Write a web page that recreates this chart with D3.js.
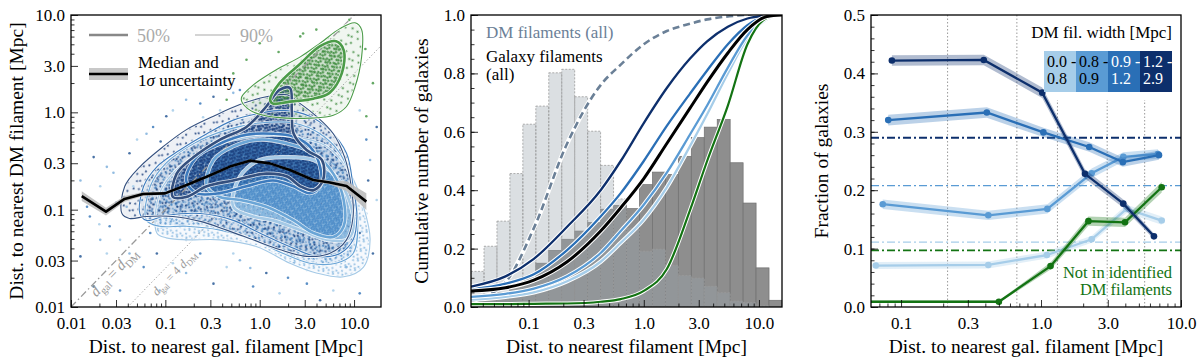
<!DOCTYPE html>
<html lang="en">
<head>
<meta charset="UTF-8">
<title>Galaxy vs DM filament distances</title>
<style>
  body { margin: 0; background: #fff; }
  svg { display: block; font-family: "Liberation Serif", "DejaVu Serif", serif; }
  .tick text { font-size: 17px; fill: #000; font-family: "Liberation Serif", serif; }
  .domain { display: none; }
  .tick line { stroke: #000; stroke-width: 0.8; }
</style>
</head>
<body>
<svg id="chart" width="1200" height="363"></svg>
<script src="https://cdn.jsdelivr.net/npm/d3@7"></script>
<script>
// ---------- left panel: dist. to gal. filament vs dist. to DM filament ----------
const medianX = [0.013, 0.0235, 0.037, 0.058, 0.099, 0.168, 0.274, 0.483, 0.787, 1.28, 2.09, 3.69, 5.55, 8.32, 13.5];
const medianY = [0.138, 0.0955, 0.129, 0.145, 0.147, 0.179, 0.218, 0.277, 0.319, 0.299, 0.256, 0.202, 0.19, 0.175, 0.121];
const medianErrDex = [0.05, 0.04, 0.03, 0.02, 0.015, 0.012, 0.012, 0.012, 0.012, 0.012, 0.012, 0.015, 0.02, 0.05, 0.085];

// contour outlines, [log10 d_gal, log10 d_DM]
const contourNavy90 = [[-1.46,-1.04],[-1.43,-0.76],[-1.27,-0.56],[-1.02,-0.35],[-0.78,-0.18],[-0.49,-0.04],[-0.21,0.08],[0.07,0.16],[0.29,0.18],[0.43,0.09],[0.60,-0.04],[0.78,-0.22],[0.90,-0.46],[0.97,-0.76],[0.99,-1.07],[0.92,-1.31],[0.74,-1.45],[0.50,-1.48],[0.21,-1.41],[-0.07,-1.31],[-0.35,-1.21],[-0.63,-1.12],[-0.92,-1.07],[-1.20,-1.07],[-1.38,-1.09]];
const contourNavy50 = [[-0.92,-0.87],[-0.88,-0.63],[-0.70,-0.46],[-0.42,-0.28],[-0.14,-0.15],[0.07,0.06],[0.21,0.23],[0.32,0.25],[0.34,0.02],[0.36,-0.22],[0.50,-0.39],[0.66,-0.49],[0.67,-0.70],[0.57,-0.80],[0.43,-0.76],[0.29,-0.66],[0.07,-0.63],[-0.28,-0.70],[-0.56,-0.76],[-0.78,-0.87]];
const contourMid90 = [[-1.27,-1.04],[-1.23,-0.76],[-1.09,-0.56],[-0.85,-0.39],[-0.56,-0.22],[-0.28,-0.08],[0.00,-0.01],[0.25,0.02],[0.53,-0.04],[0.74,-0.18],[0.92,-0.42],[0.99,-0.76],[1.03,-1.07],[0.99,-1.31],[0.85,-1.45],[0.60,-1.48],[0.32,-1.38],[0.00,-1.24],[-0.28,-1.11],[-0.63,-1.04],[-0.99,-1.06],[-1.20,-1.11]];
const contourMid50 = [[-0.78,-0.70],[-0.67,-0.46],[-0.42,-0.32],[-0.14,-0.23],[0.14,-0.22],[0.36,-0.25],[0.53,-0.35],[0.64,-0.56],[0.64,-0.76],[0.53,-0.83],[0.36,-0.76],[0.14,-0.70],[-0.14,-0.76],[-0.42,-0.83],[-0.67,-0.83]];
const contourLight90 = [[-1.20,-1.11],[-1.16,-0.76],[-0.99,-0.52],[-0.70,-0.32],[-0.35,-0.18],[0.00,-0.11],[0.36,-0.11],[0.64,-0.22],[0.85,-0.42],[0.99,-0.76],[1.04,-1.17],[0.99,-1.45],[0.81,-1.55],[0.53,-1.55],[0.25,-1.45],[-0.07,-1.31],[-0.42,-1.21],[-0.78,-1.17],[-1.06,-1.17]];
const contourLight50 = [[-0.56,-0.76],[-0.49,-0.49],[-0.28,-0.35],[0.00,-0.28],[0.29,-0.32],[0.57,-0.42],[0.78,-0.63],[0.89,-0.90],[0.89,-1.17],[0.78,-1.28],[0.57,-1.24],[0.36,-1.11],[0.07,-0.97],[-0.21,-0.90],[-0.42,-0.87]];
const contourPale90 = [[-1.09,-1.24],[-1.06,-0.83],[-0.85,-0.56],[-0.49,-0.35],[-0.07,-0.25],[0.36,-0.25],[0.71,-0.35],[0.96,-0.63],[1.10,-0.97],[1.17,-1.31],[1.10,-1.59],[0.89,-1.69],[0.60,-1.65],[0.32,-1.55],[-0.03,-1.38],[-0.42,-1.31],[-0.78,-1.31],[-0.99,-1.29]];
const contourPale50 = [[-0.28,-0.97],[-0.21,-0.66],[0.00,-0.49],[0.29,-0.46],[0.57,-0.49],[0.81,-0.66],[0.96,-0.94],[0.99,-1.21],[0.92,-1.31],[0.71,-1.31],[0.43,-1.21],[0.14,-1.11],[-0.07,-1.07]];
const contourGreen90 = [[-0.19,0.16],[-0.07,0.28],[0.18,0.44],[0.43,0.57],[0.64,0.71],[0.85,0.86],[1.01,0.92],[1.08,0.85],[1.08,0.57],[1.01,0.26],[0.92,0.06],[0.78,-0.03],[0.53,-0.06],[0.28,-0.06],[0.04,-0.03],[-0.10,0.02],[-0.19,0.11]];
const contourGreen50 = [[0.11,0.13],[0.21,0.30],[0.43,0.50],[0.64,0.68],[0.81,0.73],[0.89,0.64],[0.87,0.40],[0.74,0.20],[0.57,0.14],[0.32,0.11],[0.14,0.09]];

// scattered galaxies outside the dense regions, [log10 d_gal, log10 d_DM]
const blueStray = [[-1.90,-0.70],[-1.83,-0.97],[-1.76,-0.46],[-1.69,-0.76],[-1.62,-0.56],[-1.59,-1.17],[-1.52,-0.93],[-1.48,-1.31],[-1.69,-1.31],[-1.80,-1.07],[-1.38,-0.42],[-1.30,-0.28],[-1.20,-0.22],[-1.13,-0.15],[-0.99,-0.04],[-0.92,0.02],[-0.78,0.13],[-0.63,0.09],[-0.49,0.16],[-0.42,0.02],[-0.28,0.20],[-0.21,0.23],[-1.90,-1.48],[-1.62,-1.45],[-1.38,-1.45],[-1.23,-1.59],[-1.09,-1.45],[-0.92,-1.55],[-0.78,-1.65],[-0.63,-1.45],[-0.49,-1.76],[-0.35,-1.59],[-0.21,-1.52],[-0.07,-1.79],[0.07,-1.65],[0.21,-1.86],[0.36,-1.55],[0.50,-1.76],[0.64,-1.93],[0.78,-1.83],[0.92,-1.59],[1.06,-1.86],[1.20,-1.45],[1.24,-0.90],[1.17,-0.49],[1.13,-0.28],[1.24,-0.15],[1.06,0.02],[-1.06,-1.83],[-1.48,-1.83],[-1.76,-1.79],[-1.34,-0.76],[-1.41,-0.97],[-1.16,-1.24],[-0.78,-1.31],[-0.28,-1.45],[0.14,-1.38],[0.43,-1.31],[1.06,-1.24],[1.13,-1.04],[-1.55,-0.62],[-1.25,-0.9],[-1.05,-0.3],[-0.6,-0.05],[0.5,-1.62],[0.85,-1.4],[1.15,-0.7],[-1.7,-1.15],[-0.1,-1.6],[0.3,-1.7]];
const greenStray = [[-0.28,0.40],[-0.14,0.54],[0.43,0.78],[0.60,0.85],[1.20,0.30],[1.13,-0.04],[-0.35,0.13],[0.00,0.71],[0.46,0.81],[0.2,0.62],[0.95,0.95],[1.12,0.65]];

const leftTicks = [0.01, 0.03, 0.1, 0.3, 1, 3, 10];
const leftTickLabels = ['0.01', '0.03', '0.1', '0.3', '1.0', '3.0', '10.0'];

// ---------- middle panel: cumulative distributions ----------
const binEdges = [0.0316, 0.041, 0.0531, 0.0688, 0.0891, 0.1155, 0.1496, 0.1939, 0.2512, 0.3255, 0.4217, 0.5464, 0.7079, 0.9173, 1.1885, 1.54, 1.995, 2.585, 3.35, 4.34, 5.623, 7.286, 9.441, 12.23, 15.85];
const histDM = [0.122, 0.208, 0.294, 0.457, 0.626, 0.688, 0.802, 0.814, 0.72, 0.602, 0.485, 0.37, 0.27, 0.191, 0.198, 0.143, 0.108, 0.099, 0.071, 0.049, 0.02, 0.015, 0.004, 0];
const histGal = [0.025, 0.035, 0.05, 0.07, 0.1, 0.15, 0.194, 0.232, 0.26, 0.289, 0.335, 0.348, 0.337, 0.419, 0.462, 0.454, 0.516, 0.58, 0.616, 0.642, 0.494, 0.356, 0.134, 0.023];
const cdfX = [0.0316, 0.063, 0.111, 0.216, 0.422, 0.631, 1.0, 1.585, 2.512, 3.548, 5.37, 7.943, 11.75, 15.85];
const cdfDM = [0.02, 0.085, 0.27, 0.56, 0.76, 0.83, 0.9, 0.945, 0.97, 0.985, 0.995, 1.0, 1.0, 1.0];
const cdfGal = [0.055, 0.066, 0.092, 0.155, 0.26, 0.34, 0.44, 0.56, 0.68, 0.77, 0.87, 0.95, 0.995, 1.0];
const cdfW0 = [0.025, 0.035, 0.05, 0.088, 0.155, 0.22, 0.3, 0.41, 0.55, 0.66, 0.8, 0.92, 0.985, 1.0];
const cdfW1 = [0.035, 0.045, 0.063, 0.105, 0.185, 0.26, 0.35, 0.46, 0.59, 0.69, 0.82, 0.93, 0.99, 1.0];
const cdfW2 = [0.06, 0.08, 0.112, 0.195, 0.31, 0.39, 0.5, 0.62, 0.73, 0.81, 0.9, 0.965, 0.997, 1.0];
const cdfW3 = [0.07, 0.105, 0.165, 0.275, 0.4, 0.5, 0.63, 0.75, 0.85, 0.91, 0.96, 0.988, 0.998, 1.0];
const cdfNone = [0.01, 0.01, 0.011, 0.012, 0.018, 0.027, 0.055, 0.13, 0.33, 0.5, 0.69, 0.9, 0.99, 1.0];

const midTicks = [0.1, 0.3, 1, 3, 10];
const midTickLabels = ['0.1', '0.3', '1.0', '3.0', '10.0'];

// ---------- right panel: fraction of galaxies per DM filament width ----------
const widthLabels = [['0.0 -', '0.8'], ['0.8 -', '0.9'], ['0.9 -', '1.2'], ['1.2 -', '2.9']];
const fracX_W0 = [0.066, 0.42, 1.10, 2.30, 4.09, 7.28];
const frac_W0 = [0.071, 0.072, 0.089, 0.116, 0.168, 0.148];
const err_W0 = [0.006, 0.006, 0.006, 0.006, 0.007, 0.007];
const fracX_W1 = [0.074, 0.42, 1.11, 2.30, 3.87, 6.85];
const frac_W1 = [0.176, 0.157, 0.168, 0.229, 0.257, 0.262];
const err_W1 = [0.008, 0.008, 0.008, 0.008, 0.008, 0.008];
const fracX_W2 = [0.081, 0.41, 1.04, 2.21, 3.84, 6.96];
const frac_W2 = [0.320, 0.333, 0.299, 0.274, 0.248, 0.260];
const err_W2 = [0.009, 0.009, 0.008, 0.008, 0.008, 0.008];
const fracX_W3 = [0.086, 0.39, 1.02, 2.06, 3.87, 6.41];
const frac_W3 = [0.422, 0.423, 0.367, 0.228, 0.177, 0.121];
const err_W3 = [0.009, 0.009, 0.009, 0.008, 0.007, 0.005];
const fracX_None = [0.03, 0.50, 1.17, 2.18, 3.98, 7.28];
const frac_None = [0.009, 0.009, 0.070, 0.147, 0.145, 0.205];
const err_None = [0.002, 0.002, 0.006, 0.008, 0.008, 0.009];
const refFrac = [0.29, 0.208, 0.111, 0.097];   // W3, W1, W0, none
const binBounds = [0.215, 0.672, 1.31, 2.97, 5.5];

const rightYTicks = [0, 0.1, 0.2, 0.3, 0.4, 0.5];

// ---------- drawing ----------
const BLUES = ['#a6cde9', '#5a9bd4', '#2a6fb6', '#0d2f6c'];
const GREEN = '#137313';
const CBLUES = ['#a4c9e6', '#6aa5d6', '#3d7bbd', '#34507f'];
const CGREEN = '#4b9b48';

const svg = d3.select('#chart');
const defs = svg.append('defs');
const H = 292;

function minorLog(domain) {
  const out = [];
  [0.01, 0.1, 1, 10].forEach(dec => [2, 4, 5, 6, 7, 8, 9].forEach(m => out.push(m * dec)));
  return out.filter(v => v > domain[0] && v < domain[1]);
}

function panel(left, w, id) {
  defs.append('clipPath').attr('id', id).append('rect').attr('width', w).attr('height', H);
  const g = svg.append('g').attr('transform', `translate(${left},15)`);
  const plot = g.append('g').attr('clip-path', `url(#${id})`);
  return { g, plot };
}

function axes(g, x, y, w, o) {
  g.append('g').attr('transform', `translate(0,${H})`)
    .call(d3.axisBottom(x).tickValues(o.xMinor).tickFormat('').tickSizeInner(-3.5).tickSizeOuter(0));
  g.append('g').attr('transform', `translate(0,${H})`)
    .call(d3.axisBottom(x).tickValues(o.xMajor).tickFormat((d, i) => o.xLabels[i]).tickSizeInner(-7).tickSizeOuter(0).tickPadding(10));
  g.append('g')
    .call(d3.axisLeft(y).tickValues(o.yMinor).tickFormat('').tickSizeInner(-3.5).tickSizeOuter(0));
  g.append('g')
    .call(d3.axisLeft(y).tickValues(o.yMajor).tickFormat((d, i) => o.yLabels[i]).tickSizeInner(-7).tickSizeOuter(0).tickPadding(6));
  g.append('rect').attr('width', w).attr('height', H)
    .attr('fill', 'none').attr('stroke', '#000').attr('stroke-width', 1.3);
  g.append('text').attr('x', w / 2).attr('y', 338).attr('text-anchor', 'middle')
    .style('font-size', '19.5px').text(o.xTitle);
  g.append('text').attr('transform', `translate(${o.yTitleX},${H / 2}) rotate(-90)`)
    .attr('text-anchor', 'middle').style('font-size', '19.5px').text(o.yTitle);
}

// small hand-placed speckle tile used to suggest the scatter density
function dotPattern(id, size, color, op, r, rot) {
  const p = defs.append('pattern').attr('id', id).attr('patternUnits', 'userSpaceOnUse')
    .attr('width', size).attr('height', size).attr('patternTransform', `rotate(${rot})`);
  [[0.15, 0.2], [0.62, 0.1], [0.4, 0.55], [0.85, 0.68], [0.1, 0.85], [0.55, 0.9]].forEach(([fx, fy]) =>
    p.append('circle').attr('cx', fx * size).attr('cy', fy * size).attr('r', r)
      .attr('fill', color).attr('fill-opacity', op));
}

// ===== left panel =====
{
  const w = 310;
  const { g, plot } = panel(71, w, 'clipL');
  const x = d3.scaleLog().domain([0.01, 19.3]).range([0, w]);
  const y = d3.scaleLog().domain([0.01, 10]).range([H, 0]);
  const P = d => [x(Math.pow(10, d[0])), y(Math.pow(10, d[1]))];
  const closed = d3.line().curve(d3.curveCatmullRomClosed.alpha(0.5));

  const groups = [
    { c90: contourPale90, c50: contourPale50, col: CBLUES[0], dot: '#86b8e0' },
    { c90: contourLight90, c50: contourLight50, col: CBLUES[1], dot: '#4a8bc8' },
    { c90: contourMid90, c50: contourMid50, col: CBLUES[2], dot: '#2a63a6' },
    { c90: contourNavy90, c50: contourNavy50, col: CBLUES[3], dot: '#1c3f7d' },
    { c90: contourGreen90, c50: contourGreen50, col: CGREEN, dot: '#3b8a3b' }
  ];
  groups.forEach((gr, i) => {
    dotPattern('sp' + i, 10 + i * 1.7, gr.dot, 0.85, 1.1, 17 + i * 29);
    dotPattern('dn' + i, 5.2 + i * 0.7, gr.dot, 0.9, 1.25, 31 + i * 23);
  });

  // density of galaxies
  groups.forEach((gr, i) => {
    plot.append('path').attr('d', closed(gr.c90.map(P))).attr('fill', gr.dot).attr('fill-opacity', 0.08);
    plot.append('path').attr('d', closed(gr.c90.map(P))).attr('fill', `url(#sp${i})`);
  });
  groups.forEach((gr, i) => {
    plot.append('path').attr('d', closed(gr.c50.map(P))).attr('fill', gr.dot).attr('fill-opacity', 0.2);
    plot.append('path').attr('d', closed(gr.c50.map(P))).attr('fill', `url(#dn${i})`);
  });
  plot.selectAll('.bs').data(blueStray).join('circle')
    .attr('cx', d => P(d)[0]).attr('cy', d => P(d)[1]).attr('r', 1.3)
    .attr('fill', (d, i) => ['#7fb0dc', '#3f7cbc', '#2a5a96', '#a6cde9'][i % 4]).attr('fill-opacity', 0.85);
  plot.selectAll('.gs').data(greenStray).join('circle')
    .attr('cx', d => P(d)[0]).attr('cy', d => P(d)[1]).attr('r', 1.3)
    .attr('fill', '#4a9a4a').attr('fill-opacity', 0.85);

  // reference diagonals d_gal = d_DM and d_gal = 4 d_DM
  [[1, '7,3,1.5,3', 1.3], [4, '1.2,2.2', 1]].forEach(([r, dash, sw]) => {
    plot.append('line')
      .attr('x1', x(0.01)).attr('y1', y(0.01 / r))
      .attr('x2', x(19.3)).attr('y2', y(19.3 / r))
      .attr('stroke', '#999').attr('stroke-width', sw).attr('stroke-dasharray', dash);
  });

  // contours
  groups.forEach(gr => {
    [[gr.c90, 1.1], [gr.c50, 2.6]].forEach(([c, sw]) => {
      plot.append('path').attr('d', closed(c.map(P))).attr('fill', 'none')
        .attr('stroke', '#fff').attr('stroke-width', sw + 1.6).attr('stroke-opacity', 0.8);
      plot.append('path').attr('d', closed(c.map(P))).attr('fill', 'none')
        .attr('stroke', gr.col).attr('stroke-width', sw);
    });
  });

  // median and 1 sigma band
  const med = medianX.map((v, i) => ({ x: v, y: medianY[i], e: medianErrDex[i] }));
  plot.append('path').datum(med)
    .attr('d', d3.area().x(d => x(d.x)).y0(d => y(d.y * Math.pow(10, -d.e))).y1(d => y(d.y * Math.pow(10, d.e))))
    .attr('fill', '#bdbdbd').attr('fill-opacity', 0.9);
  plot.append('path').datum(med)
    .attr('d', d3.line().x(d => x(d.x)).y(d => y(d.y)))
    .attr('fill', 'none').attr('stroke', '#000').attr('stroke-width', 2.6).attr('stroke-linejoin', 'round');

  // diagonal labels
  const ang = -Math.atan((y(0.01) - y(0.1)) / (x(0.1) - x(0.01))) * 180 / Math.PI;
  function dLabel(px, py, size, factor) {
    const t = g.append('text').attr('transform', `translate(${x(px)},${y(py)}) rotate(${ang})`)
      .attr('text-anchor', 'middle').attr('fill', '#9a9a9a').style('font-size', size + 'px');
    t.append('tspan').attr('font-style', 'italic').text('d');
    t.append('tspan').attr('dy', size * 0.25).style('font-size', (size * 0.7) + 'px').text('gal');
    t.append('tspan').attr('dy', -size * 0.25).text(' = ' + factor);
    t.append('tspan').attr('font-style', 'italic').text('d');
    t.append('tspan').attr('dy', size * 0.25).style('font-size', (size * 0.7) + 'px').text('DM');
  }
  dLabel(0.031, 0.021, 15, '');
  dLabel(0.133, 0.021, 12, '4 ');

  axes(g, x, y, w, {
    xMajor: leftTicks, xLabels: leftTickLabels, xMinor: minorLog(x.domain()),
    yMajor: leftTicks, yLabels: leftTickLabels, yMinor: minorLog(y.domain()),
    xTitle: 'Dist. to nearest gal. filament [Mpc]',
    yTitle: 'Dist. to nearest DM filament [Mpc]', yTitleX: -48
  });

  // legend
  g.append('line').attr('x1', 18).attr('x2', 57).attr('y1', 20).attr('y2', 20)
    .attr('stroke', '#888').attr('stroke-width', 2.6);
  g.append('text').attr('x', 66).attr('y', 27).attr('fill', '#aaa').style('font-size', '18px').text('50%');
  g.append('line').attr('x1', 124).attr('x2', 159).attr('y1', 20).attr('y2', 20)
    .attr('stroke', '#aaa').attr('stroke-width', 1.1);
  g.append('text').attr('x', 169).attr('y', 27).attr('fill', '#aaa').style('font-size', '18px').text('90%');
  g.append('rect').attr('x', 18).attr('y', 53).attr('width', 39).attr('height', 12).attr('fill', '#c8c8c8');
  g.append('line').attr('x1', 18).attr('x2', 57).attr('y1', 59).attr('y2', 59)
    .attr('stroke', '#000').attr('stroke-width', 2.6);
  g.append('text').attr('x', 67).attr('y', 53).style('font-size', '17px').text('Median and');
  const t2 = g.append('text').attr('x', 67).attr('y', 71).style('font-size', '17px');
  t2.append('tspan').text('1');
  t2.append('tspan').attr('font-style', 'italic').text('σ');
  t2.append('tspan').text(' uncertainty');
}

// ===== middle panel =====
{
  const w = 311;
  const { g, plot } = panel(471, w, 'clipM');
  const x = d3.scaleLog().domain([0.0316, 15.85]).range([0, w]);
  const y = d3.scaleLinear().domain([0, 1]).range([H, 0]);

  const bars = (data, cls) => plot.selectAll('.' + cls).data(data).join('rect').attr('class', cls)
    .attr('x', (d, i) => x(binEdges[i])).attr('width', (d, i) => x(binEdges[i + 1]) - x(binEdges[i]))
    .attr('y', d => y(d)).attr('height', d => y(0) - y(d));
  bars(histGal, 'hg').attr('fill', '#8e8e8e').attr('stroke', '#6f6f6f').attr('stroke-width', 0.7);
  bars(histDM, 'hd').attr('fill', '#9aa5b0').attr('fill-opacity', 0.36)
    .attr('stroke', '#9a9a9a').attr('stroke-width', 0.8).attr('stroke-dasharray', '2,1.5');

  const line = d3.line().x((d, i) => x(cdfX[i])).y(d => y(d)).curve(d3.curveMonotoneX);
  const curves = [
    { d: cdfDM, c: '#6b8097', sw: 2.6, dash: '7,4' },
    { d: cdfW0, c: BLUES[0], sw: 2.3 },
    { d: cdfW1, c: BLUES[1], sw: 2.3 },
    { d: cdfNone, c: GREEN, sw: 2.2 },
    { d: cdfW2, c: BLUES[2], sw: 2.3 },
    { d: cdfW3, c: BLUES[3], sw: 2.3 },
    { d: cdfGal, c: '#000', sw: 3 }
  ];
  curves.forEach(cv => {
    plot.append('path').datum(cv.d).attr('d', line).attr('fill', 'none')
      .attr('stroke', '#fff').attr('stroke-width', cv.sw + 2);
    plot.append('path').datum(cv.d).attr('d', line).attr('fill', 'none')
      .attr('stroke', cv.c).attr('stroke-width', cv.sw).attr('stroke-dasharray', cv.dash || null);
  });

  axes(g, x, y, w, {
    xMajor: midTicks, xLabels: midTickLabels, xMinor: minorLog(x.domain()),
    yMajor: [0, 0.2, 0.4, 0.6, 0.8, 1], yLabels: ['0.0', '0.2', '0.4', '0.6', '0.8', '1.0'],
    yMinor: d3.range(0, 1.001, 0.05),
    xTitle: 'Dist. to nearest filament [Mpc]',
    yTitle: 'Cumulative number of galaxies', yTitleX: -43
  });

  g.append('text').attr('x', 15).attr('y', 23).attr('fill', '#6b8097').style('font-size', '17px').text('DM filaments (all)');
  g.append('text').attr('x', 15).attr('y', 47).style('font-size', '17px').text('Galaxy filaments');
  g.append('text').attr('x', 15).attr('y', 65).style('font-size', '17px').text('(all)');
}

// ===== right panel =====
{
  const w = 310;
  const { g, plot } = panel(871, w, 'clipR');
  const x = d3.scaleLog().domain([0.061, 10]).range([0, w]);
  const y = d3.scaleLinear().domain([0, 0.5]).range([H, 0]);

  binBounds.forEach(b => plot.append('line').attr('x1', x(b)).attr('x2', x(b)).attr('y1', 0).attr('y2', H)
    .attr('stroke', '#999').attr('stroke-width', 1).attr('stroke-dasharray', '1.5,2'));
  // legend background hides the grid lines behind it, drawn below the data
  plot.append('rect').attr('x', 170).attr('y', 0).attr('width', 140).attr('height', 85).attr('fill', '#fff');

  const refStyle = [[BLUES[3], 2], [BLUES[1], 1.2], [BLUES[0], 1.2], [GREEN, 1.6]];
  refFrac.forEach((v, i) => plot.append('line').attr('x1', 0).attr('x2', w).attr('y1', y(v)).attr('y2', y(v))
    .attr('stroke', refStyle[i][0]).attr('stroke-width', refStyle[i][1]).attr('stroke-dasharray', '8,3,2,3'));

  const series = [
    { xs: fracX_W0, v: frac_W0, e: err_W0, c: BLUES[0] },
    { xs: fracX_W1, v: frac_W1, e: err_W1, c: BLUES[1] },
    { xs: fracX_W2, v: frac_W2, e: err_W2, c: BLUES[2] },
    { xs: fracX_None, v: frac_None, e: err_None, c: GREEN },
    { xs: fracX_W3, v: frac_W3, e: err_W3, c: BLUES[3] }
  ];
  series.forEach(s => {
    const pts = s.v.map((v, i) => ({ x: s.xs[i], v, e: s.e[i] }));
    plot.append('path').datum(pts)
      .attr('d', d3.area().x(d => x(d.x)).y0(d => y(d.v - d.e)).y1(d => y(d.v + d.e)))
      .attr('fill', s.c).attr('fill-opacity', 0.32);
    plot.append('path').datum(pts)
      .attr('d', d3.line().x(d => x(d.x)).y(d => y(d.v)))
      .attr('fill', 'none').attr('stroke', s.c).attr('stroke-width', 2.3);
    plot.selectAll(null).data(pts).join('circle')
      .attr('cx', d => x(d.x)).attr('cy', d => y(d.v)).attr('r', 3.3).attr('fill', s.c);
  });

  axes(g, x, y, w, {
    xMajor: midTicks, xLabels: midTickLabels, xMinor: minorLog(x.domain()),
    yMajor: rightYTicks, yLabels: rightYTicks.map(d3.format('.1f')),
    yMinor: d3.range(0, 0.501, 0.02),
    xTitle: 'Dist. to nearest gal. filament [Mpc]',
    yTitle: 'Fraction of galaxies', yTitleX: -43
  });

  // legend for DM filament width
  g.append('text').attr('x', 301).attr('y', 23).attr('text-anchor', 'end').style('font-size', '17px').text('DM fil. width [Mpc]');
  widthLabels.forEach((lab, i) => {
    const cx = 173 + i * 32;
    g.append('rect').attr('x', cx).attr('y', 36).attr('width', 32).attr('height', 41).attr('fill', BLUES[i]);
    lab.forEach((s, j) => g.append('text').attr('x', cx + 3).attr('y', 52 + j * 17)
      .attr('fill', i < 2 ? '#000' : '#fff').style('font-size', '16px').text(s));
  });
  g.append('text').attr('x', 301).attr('y', 263).attr('text-anchor', 'end').attr('fill', GREEN)
    .style('font-size', '16.5px').text('Not in identified');
  g.append('text').attr('x', 301).attr('y', 280).attr('text-anchor', 'end').attr('fill', GREEN)
    .style('font-size', '16.5px').text('DM filaments');
}
</script>
</body>
</html>
